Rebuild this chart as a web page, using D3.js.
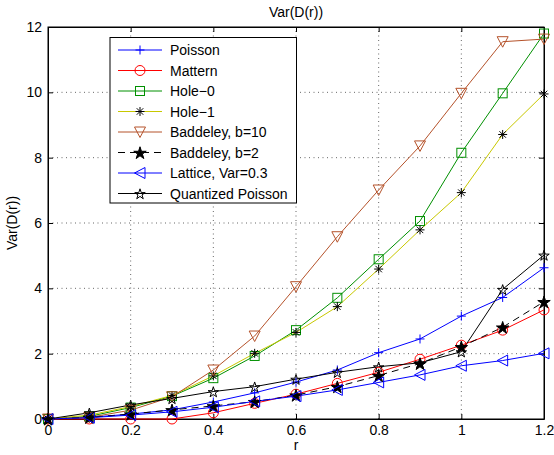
<!DOCTYPE html>
<html>
<head>
<meta charset="utf-8">
<script src="https://cdn.jsdelivr.net/npm/d3@7"></script>
<style>
  body { margin: 0; background: #fff; }
  svg { font-family: "Liberation Sans", Arial, sans-serif; }
</style>
</head>
<body>
<svg id="chart" width="554" height="455"></svg>
<script>
const rValues = [0, 0.1, 0.2, 0.3, 0.4, 0.5, 0.6, 0.7, 0.8, 0.9, 1.0, 1.1, 1.2];
const xTicks = [0, 0.2, 0.4, 0.6, 0.8, 1, 1.2];
const yTicks = [0, 2, 4, 6, 8, 10, 12];

const poisson    = [0, 0.05, 0.15, 0.28, 0.52, 0.8, 1.13, 1.5, 2.03, 2.45, 3.15, 3.72, 4.63];
const mattern    = [0, 0.0, 0.0, 0.0, 0.19, 0.48, 0.76, 1.09, 1.43, 1.83, 2.26, 2.72, 3.34];
const hole0      = [0, 0.08, 0.35, 0.7, 1.25, 1.93, 2.72, 3.71, 4.89, 6.06, 8.15, 9.97, 11.8];
const hole1      = [0, 0.12, 0.38, 0.72, 1.32, 2.01, 2.65, 3.44, 4.59, 5.79, 6.93, 8.71, 9.95];
const baddeley10 = [0, 0.05, 0.27, 0.68, 1.5, 2.54, 4.05, 5.58, 7.01, 8.36, 9.97, 11.55, 11.63];
const baddeley2  = [0, 0.05, 0.15, 0.28, 0.4, 0.53, 0.73, 0.99, 1.33, 1.7, 2.21, 2.81, 3.59];
const lattice    = [0, 0.04, 0.12, 0.22, 0.36, 0.54, 0.7, 0.89, 1.12, 1.35, 1.63, 1.79, 2.01];
const quantized  = [0, 0.19, 0.43, 0.63, 0.84, 0.99, 1.22, 1.43, 1.6, 1.72, 2.06, 3.97, 5.02];

const seriesNames = ["Poisson", "Mattern", "Hole\u22120", "Hole\u22121", "Baddeley, b=10",
                     "Baddeley, b=2", "Lattice, Var=0.3", "Quantized Poisson"];

const series = [
  { name: seriesNames[0], values: poisson,    color: "#0000ff", marker: "plus" },
  { name: seriesNames[1], values: mattern,    color: "#ff0000", marker: "circle" },
  { name: seriesNames[2], values: hole0,      color: "#009000", marker: "square" },
  { name: seriesNames[3], values: hole1,      color: "#c8c800", marker: "asterisk", markerColor: "#000" },
  { name: seriesNames[4], values: baddeley10, color: "#b5522a", marker: "triDown" },
  { name: seriesNames[5], values: baddeley2,  color: "#000000", marker: "starFill", dash: "7,5" },
  { name: seriesNames[6], values: lattice,    color: "#0000ff", marker: "triLeft" },
  { name: seriesNames[7], values: quantized,  color: "#000000", marker: "star" }
];

const svg = d3.select("#chart");
const margin = { left: 48, right: 10, top: 27, bottom: 36 };
const W = 554, H = 455;
const x0 = margin.left, x1 = W - margin.right, y0 = H - margin.bottom, y1 = margin.top;

const x = d3.scaleLinear().domain([0, 1.2]).range([x0, x1]);
const y = d3.scaleLinear().domain([0, 12]).range([y0, y1]);

// grid
const grid = svg.append("g");
grid.selectAll(".gx").data(xTicks.slice(1, -1)).join("line")
  .attr("x1", d => x(d)).attr("x2", d => x(d)).attr("y1", y0).attr("y2", y1)
  .attr("stroke", "#000").attr("stroke-width", 0.6).attr("stroke-dasharray", "1,3.5");
grid.selectAll(".gy").data(yTicks.slice(1, -1)).join("line")
  .attr("y1", d => y(d)).attr("y2", d => y(d)).attr("x1", x0).attr("x2", x1)
  .attr("stroke", "#000").attr("stroke-width", 0.6).attr("stroke-dasharray", "1,3.5");

// axes with inward ticks
const fmt = d => String(d);
svg.append("g").attr("transform", `translate(0,${y0})`)
  .call(d3.axisBottom(x).tickValues(xTicks).tickFormat(fmt).tickSizeInner(-5).tickSizeOuter(0).tickPadding(6));
svg.append("g").attr("transform", `translate(0,${y1})`)
  .call(d3.axisTop(x).tickValues(xTicks).tickFormat("").tickSizeInner(-5).tickSizeOuter(0));
svg.append("g").attr("transform", `translate(${x0},0)`)
  .call(d3.axisLeft(y).tickValues(yTicks).tickFormat(fmt).tickSizeInner(-5).tickSizeOuter(0).tickPadding(6));
svg.append("g").attr("transform", `translate(${x1},0)`)
  .call(d3.axisRight(y).tickValues(yTicks).tickFormat("").tickSizeInner(-5).tickSizeOuter(0));
svg.selectAll(".domain").attr("stroke", "#000");
svg.selectAll(".tick line").attr("stroke", "#000");
svg.selectAll(".tick text").attr("font-size", 14).attr("fill", "#000")
  .attr("font-family", "Liberation Sans, Arial, sans-serif");

svg.append("rect").attr("x", x0).attr("y", y1).attr("width", x1 - x0).attr("height", y0 - y1)
  .attr("fill", "none").attr("stroke", "#000").attr("stroke-width", 1);

// markers
function drawMarker(g, type, cx, cy, color) {
  const s = 4.5;
  if (type === "plus") {
    g.append("path").attr("d", `M${cx - s},${cy}H${cx + s}M${cx},${cy - s}V${cy + s}`)
      .attr("stroke", color).attr("stroke-width", 1);
  } else if (type === "circle") {
    g.append("circle").attr("cx", cx).attr("cy", cy).attr("r", 5)
      .attr("fill", "none").attr("stroke", color).attr("stroke-width", 1);
  } else if (type === "square") {
    g.append("rect").attr("x", cx - 4.5).attr("y", cy - 4.5).attr("width", 9).attr("height", 9)
      .attr("fill", "none").attr("stroke", color).attr("stroke-width", 1);
  } else if (type === "asterisk") {
    const d = s * 0.72;
    g.append("path")
      .attr("d", `M${cx - s},${cy}H${cx + s}M${cx},${cy - s}V${cy + s}M${cx - d},${cy - d}L${cx + d},${cy + d}M${cx - d},${cy + d}L${cx + d},${cy - d}`)
      .attr("stroke", color).attr("stroke-width", 1);
  } else if (type === "triDown") {
    g.append("path").attr("d", `M${cx - 5.5},${cy - 5}L${cx + 5.5},${cy - 5}L${cx},${cy + 5.5}Z`)
      .attr("fill", "none").attr("stroke", color).attr("stroke-width", 1);
  } else if (type === "triLeft") {
    g.append("path").attr("d", `M${cx + 5},${cy - 5.5}L${cx + 5},${cy + 5.5}L${cx - 5.5},${cy}Z`)
      .attr("fill", "none").attr("stroke", color).attr("stroke-width", 1);
  } else if (type === "star" || type === "starFill") {
    const big = type === "starFill";
    g.append("path").attr("d", d3.symbol(d3.symbolStar, big ? 48 : 34)())
      .attr("transform", `translate(${cx},${cy + 0.8})`)
      .attr("fill", big ? "#000" : "none").attr("stroke", color).attr("stroke-width", 1);
  }
}

const line = d3.line().x((d, i) => x(rValues[i])).y(d => y(d));
const plot = svg.append("g");
series.forEach(s => {
  plot.append("path").datum(s.values).attr("d", line)
    .attr("fill", "none").attr("stroke", s.color).attr("stroke-width", 1)
    .attr("stroke-dasharray", s.dash || null);
});
series.forEach(s => {
  const g = plot.append("g");
  s.values.forEach((v, i) => drawMarker(g, s.marker, x(rValues[i]), y(v), s.markerColor || s.color));
});

// labels
svg.append("text").attr("x", (x0 + x1) / 2).attr("y", 17).attr("text-anchor", "middle")
  .attr("font-size", 14).text("Var(D(r))");
svg.append("text").attr("x", (x0 + x1) / 2).attr("y", 450).attr("text-anchor", "middle")
  .attr("font-size", 14).text("r");
svg.append("text").attr("transform", `translate(17,${(y0 + y1) / 2}) rotate(-90)`)
  .attr("text-anchor", "middle").attr("font-size", 14).text("Var(D(r))");

// legend
const lg = svg.append("g");
lg.append("rect").attr("x", 110).attr("y", 37.5).attr("width", 186.5).attr("height", 165.5)
  .attr("fill", "#fff").attr("stroke", "#000").attr("stroke-width", 1);
series.forEach((s, i) => {
  const ly = 50 + i * 20.5;
  lg.append("line").attr("x1", 118).attr("x2", 162).attr("y1", ly).attr("y2", ly)
    .attr("stroke", s.color).attr("stroke-width", 1).attr("stroke-dasharray", s.dash || null);
  drawMarker(lg, s.marker, 140, ly, s.markerColor || s.color);
  lg.append("text").attr("x", 170).attr("y", ly + 5).attr("font-size", 14).text(s.name);
});
</script>
</body>
</html>
